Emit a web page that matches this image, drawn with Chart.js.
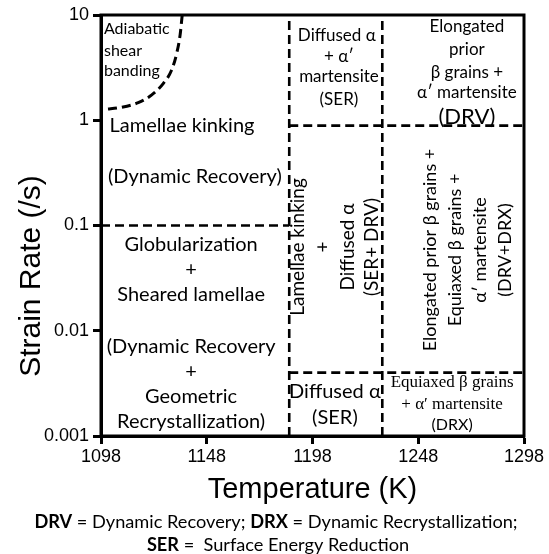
<!DOCTYPE html>
<html>
<head>
<meta charset="utf-8">
<script src="https://cdn.jsdelivr.net/npm/chart.js@4.4.1/dist/chart.umd.min.js"></script>
<style>
html,body{margin:0;padding:0;background:#fff;}
canvas{display:block;}
</style>
</head>
<body>
<canvas id="c" width="549" height="554"></canvas>
<script>
// ---- data ----
const xTickValues = [1098, 1148, 1198, 1248, 1298];
const yTickValues = [0.001, 0.01, 0.1, 1, 10];
const yTickLabels = ['0.001', '0.01', '0.1', '1', '10'];
const boundaryTemps = [1187, 1231];          // vertical dashed boundaries (K)
const boundaryRates = [0.1, 0.89, 0.004];    // horizontal dashed boundaries (/s)
const curveTemps = [1136.4, 1135.4, 1133.8, 1131.4, 1127.5, 1122.0, 1115.6, 1107.8, 1099.9];
const curveRates = [10, 6.46, 4.33, 3.0, 2.24, 1.74, 1.47, 1.33, 1.27];
const tMin = 1098, tMax = 1298, rMin = 0.001, rMax = 10;

// ---- region labels (anchored in data units) ----
const L = 'Lato', S = 'Liberation Serif';
const regionLabels = [
  {t:'Adiabatic', x:1099.4, y:7.36, s:16, a:'left'},
  {t:'shear', x:1099.4, y:4.55, s:16, a:'left'},
  {t:'banding', x:1099.4, y:2.94, s:16, a:'left'},
  {t:'Lamellae kinking', x:1136.3, y:0.881, s:20},
  {t:'(Dynamic Recovery)', x:1142.4, y:0.289, s:20},
  {t:'Globularization', x:1140.6, y:0.0653, s:20},
  {t:'+', x:1140.6, y:0.0378, s:20},
  {t:'Sheared lamellae', x:1140.6, y:0.0219, s:20},
  {t:'(Dynamic Recovery', x:1140.6, y:0.00702, s:20},
  {t:'+', x:1140.6, y:0.00406, s:20},
  {t:'Geometric', x:1140.6, y:0.00235, s:20},
  {t:'Recrystallization)', x:1140.6, y:0.00136, s:20},
  {t:'Diffused \u03b1', x:1209.5, y:6.45, s:17},
  {t:'+ \u03b1\u2032', x:1210.5, y:3.99, s:17},
  {t:'martensite', x:1210.5, y:2.58, s:17},
  {t:'(SER)', x:1210.5, y:1.56, s:17},
  {t:'Lamellae kinking', x:1191.1, y:0.0625, s:19, r:-90},
  {t:'+', x:1203.0, y:0.0625, s:19, r:-90},
  {t:'Diffused \u03b1', x:1214.8, y:0.0625, s:19, r:-90},
  {t:'(SER+ DRV)', x:1226.1, y:0.0625, s:19, r:-90},
  {t:'Diffused \u03b1', x:1208.6, y:0.00262, s:20},
  {t:'(SER)', x:1208.6, y:0.00151, s:20},
  {t:'Elongated', x:1271, y:7.69, s:17},
  {t:'prior', x:1271, y:4.65, s:17},
  {t:'\u03b2 grains +', x:1271, y:2.87, s:17},
  {t:'\u03b1\u2032 martensite', x:1271, y:1.85, s:17},
  {t:'(DRV)', x:1271, y:1.07, s:22},
  {t:'Elongated prior \u03b2 grains +', x:1253.6, y:0.0585, s:18, r:-90},
  {t:'Equiaxed \u03b2 grains +', x:1265.4, y:0.0585, s:18, r:-90},
  {t:'\u03b1\u2032 martensite', x:1277.2, y:0.0585, s:18, r:-90},
  {t:'(DRV+DRX)', x:1289.0, y:0.0585, s:18, r:-90},
  {t:'Equiaxed \u03b2 grains', x:1264, y:0.00319, s:17, f:S},
  {t:'+ \u03b1\u2032 martensite', x:1264, y:0.00197, s:17, f:S},
  {t:'(DRX)', x:1264, y:0.00127, s:16}
];

// ---- datasets built from the arrays ----
const dashStyle = {borderColor:'#000', borderWidth:2.6, borderDash:[9,5], pointRadius:0, showLine:true, fill:false, tension:0};
const datasets = [
  Object.assign({data:[{x:tMin, y:boundaryRates[0]}, {x:boundaryTemps[0], y:boundaryRates[0]}]}, dashStyle),
  Object.assign({data:[{x:boundaryTemps[0], y:boundaryRates[1]}, {x:tMax, y:boundaryRates[1]}]}, dashStyle),
  Object.assign({data:[{x:boundaryTemps[0], y:boundaryRates[2]}, {x:tMax, y:boundaryRates[2]}]}, dashStyle),
  Object.assign({data:[{x:boundaryTemps[0], y:rMin}, {x:boundaryTemps[0], y:rMax}]}, dashStyle),
  Object.assign({data:[{x:boundaryTemps[1], y:rMin}, {x:boundaryTemps[1], y:rMax}]}, dashStyle),
  Object.assign({data:curveTemps.map((t,i)=>({x:t, y:curveRates[i]})), cubicInterpolationMode:'monotone'}, dashStyle, {borderWidth:3, tension:0.4})
];

const decorPlugin = {
  id:'decor',
  afterDatasetsDraw(chart){
    const ctx = chart.ctx, xs = chart.scales.x, ys = chart.scales.y, ca = chart.chartArea;
    ctx.save();
    ctx.fillStyle = '#000';
    regionLabels.forEach(l=>{
      const px = xs.getPixelForValue(l.x), py = ys.getPixelForValue(l.y);
      ctx.save();
      ctx.translate(px, py);
      if (l.r) ctx.rotate(l.r*Math.PI/180);
      ctx.font = l.s + 'px "' + (l.f || L) + '"';
      ctx.textAlign = l.a || 'center';
      ctx.textBaseline = 'middle';
      ctx.fillText(l.t, 0, 0);
      ctx.restore();
    });
    // frame
    ctx.strokeStyle = '#000';
    ctx.lineWidth = 3;
    ctx.setLineDash([]);
    ctx.strokeRect(ca.left, ca.top, ca.right - ca.left, ca.bottom - ca.top);
    ctx.restore();
  },
  afterDraw(chart){
    const ctx = chart.ctx, ca = chart.chartArea;
    ctx.save();
    ctx.fillStyle = '#000';
    // y title
    ctx.save();
    ctx.translate(32, 276);
    ctx.rotate(-Math.PI/2);
    ctx.font = '30px "Liberation Sans"';
    ctx.textAlign = 'center';
    ctx.textBaseline = 'middle';
    ctx.fillText('Strain Rate (/s)', 0, 0);
    ctx.restore();
    // x title
    ctx.font = '29px "Liberation Sans"';
    ctx.textAlign = 'center';
    ctx.textBaseline = 'alphabetic';
    ctx.fillText('Temperature (K)', (ca.left + ca.right)/2, 498);
    // footnote
    const rich = (segs, cx, by, size) => {
      let w = 0;
      segs.forEach(s=>{ ctx.font = (s[1] ? 'bold ' : '') + size + 'px Lato'; w += ctx.measureText(s[0]).width; });
      let x = cx - w/2;
      ctx.textAlign = 'left';
      segs.forEach(s=>{ ctx.font = (s[1] ? 'bold ' : '') + size + 'px Lato'; ctx.fillText(s[0], x, by); x += ctx.measureText(s[0]).width; });
    };
    rich([['DRV',1],[' = Dynamic Recovery; ',0],['DRX',1],[' = Dynamic Recrystallization;',0]], 276, 528, 18.2);
    rich([['SER',1],[' =  Surface Energy Reduction',0]], 278, 551, 18.2);
    ctx.restore();
  }
};

new Chart(document.getElementById('c'), {
  type:'scatter',
  data:{datasets},
  options:{
    responsive:false,
    animation:false,
    devicePixelRatio:1,
    layout:{padding:{left:0, right:25, top:15, bottom:0}},
    plugins:{legend:{display:false}, tooltip:{enabled:false}},
    scales:{
      x:{
        type:'linear', min:tMin, max:tMax,
        afterBuildTicks:(s)=>{ s.ticks = xTickValues.map(v=>({value:v})); },
        afterFit:(s)=>{ s.height = 118; },
        grid:{display:true, drawOnChartArea:false, drawTicks:true, tickLength:8, tickWidth:3, tickColor:'#000'},
        border:{display:true, width:3, color:'#000'},
        ticks:{color:'#000', font:{family:'Liberation Sans', size:18}, padding:2, maxRotation:0, autoSkip:false,
               callback:(v)=>String(v)}
      },
      y:{
        type:'logarithmic', min:rMin, max:rMax,
        afterBuildTicks:(s)=>{ s.ticks = yTickValues.map(v=>({value:v})); },
        afterFit:(s)=>{ s.width = 101; },
        grid:{display:true, drawOnChartArea:false, drawTicks:true, tickLength:8, tickWidth:3, tickColor:'#000'},
        border:{display:true, width:3, color:'#000'},
        ticks:{color:'#000', font:{family:'Liberation Sans', size:18}, padding:4, autoSkip:false,
               callback:(v)=>{ const i = yTickValues.findIndex(t=>Math.abs(t-v)/t < 1e-6); return i >= 0 ? yTickLabels[i] : ''; }}
      }
    }
  },
  plugins:[decorPlugin]
});
</script>
</body>
</html>
